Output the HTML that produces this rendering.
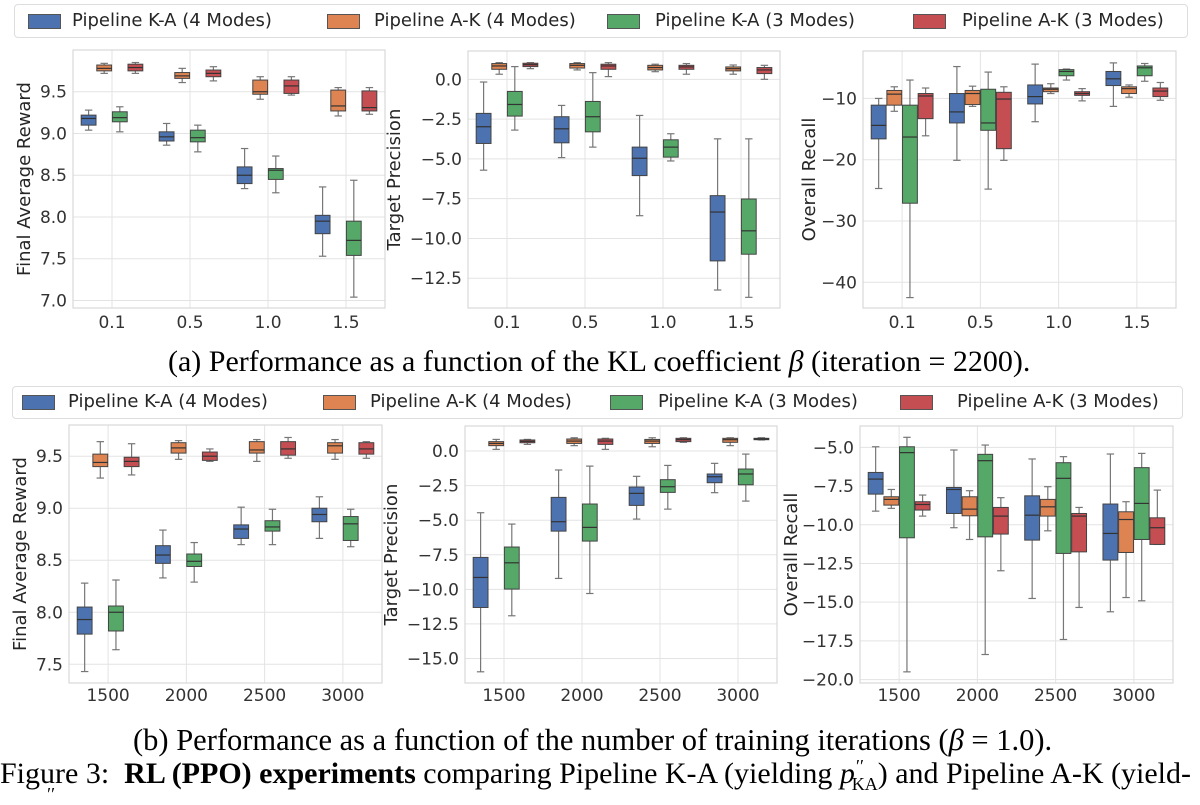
<!DOCTYPE html>
<html><head><meta charset="utf-8">
<style>
body{margin:0;background:#fff;width:1200px;height:798px;overflow:hidden;position:relative;font-family:"DejaVu Sans","Liberation Sans",sans-serif}
.legend{position:absolute;border:1px solid #ddd;border-radius:4px;background:#fff;box-sizing:border-box}
.sw{position:absolute;width:33px;height:15px;border:1px solid #555;box-sizing:border-box}
.lt{position:absolute;font-size:18px;color:#262626;white-space:nowrap;line-height:22px}
.cap{position:absolute;font-family:"Liberation Serif",serif;color:#000;white-space:nowrap}
</style></head><body>
<div class="legend" style="left:14px;top:4px;width:1174px;height:34px"></div>
<div><span class="sw" style="left:28px;top:14px;background:#4c72b0"></span><span class="lt" style="left:72px;top:10px">Pipeline K-A (4 Modes)</span></div>
<div><span class="sw" style="left:327px;top:14px;background:#dd8452"></span><span class="lt" style="left:374px;top:10px">Pipeline A-K (4 Modes)</span></div>
<div><span class="sw" style="left:607px;top:14px;background:#55a868"></span><span class="lt" style="left:655px;top:10px">Pipeline K-A (3 Modes)</span></div>
<div><span class="sw" style="left:913px;top:14px;background:#c44e52"></span><span class="lt" style="left:962px;top:10px">Pipeline A-K (3 Modes)</span></div>

<div class="legend" style="left:12px;top:386px;width:1171px;height:33px"></div>
<div><span class="sw" style="left:22px;top:395px;background:#4c72b0"></span><span class="lt" style="left:68px;top:391px">Pipeline K-A (4 Modes)</span></div>
<div><span class="sw" style="left:323px;top:395px;background:#dd8452"></span><span class="lt" style="left:370px;top:391px">Pipeline A-K (4 Modes)</span></div>
<div><span class="sw" style="left:610px;top:395px;background:#55a868"></span><span class="lt" style="left:658px;top:391px">Pipeline K-A (3 Modes)</span></div>
<div><span class="sw" style="left:900px;top:395px;background:#c44e52"></span><span class="lt" style="left:957px;top:391px">Pipeline A-K (3 Modes)</span></div>

<div class="cap" style="left:168px;top:344px;font-size:30px;line-height:36px">(a) Performance as a function of the KL coefficient <i>β</i> (iteration = 2200).</div>
<div class="cap" style="left:133px;top:722px;font-size:30.5px;line-height:36px">(b) Performance as a function of the number of training iterations (<i>β</i> = 1.0).</div>
<div class="cap" style="left:0px;top:756px;font-size:30px;line-height:36px">Figure 3:&nbsp; <b>RL (PPO) experiments</b> comparing Pipeline K-A (yielding <i>p</i><span style="position:relative;top:-11px;font-size:18px"><i>′′</i></span><span style="font-size:18px;position:relative;top:7px;margin-left:-11px">KA</span>) and Pipeline A-K (yield-</div>
<div class="cap" style="left:46px;top:784px;font-size:18px"><i>′′</i></div>
<svg id="chart" width="1200" height="798" style="position:absolute;left:0;top:0"></svg>
<script>
// categories
const catsBeta = ["0.1","0.5","1.0","1.5"];
const catsIter = ["1500","2000","2500","3000"];
// each entry: [whiskerLow, q1, median, q3, whiskerHigh]
// (a) Final Average Reward
const aRewKA4 = [[9.04,9.10,9.18,9.22,9.28],[8.86,8.91,8.96,9.02,9.12],[8.34,8.40,8.50,8.60,8.82],[7.53,7.80,7.95,8.02,8.36]];
const aRewAK4 = [[9.72,9.75,9.78,9.82,9.84],[9.61,9.66,9.69,9.73,9.78],[9.41,9.47,9.50,9.64,9.68],[9.21,9.27,9.33,9.52,9.55]];
const aRewKA3 = [[9.02,9.14,9.19,9.26,9.32],[8.78,8.90,8.95,9.04,9.10],[8.29,8.45,8.56,8.58,8.73],[7.04,7.54,7.72,7.95,8.44]];
const aRewAK3 = [[9.72,9.75,9.79,9.83,9.85],[9.63,9.68,9.72,9.76,9.80],[9.46,9.48,9.57,9.64,9.68],[9.23,9.27,9.31,9.51,9.55]];
// (a) Target Precision
const aPreKA4 = [[-5.71,-4.03,-2.98,-2.14,-0.17],[-4.92,-3.99,-3.11,-2.35,-1.64],[-8.57,-6.05,-4.96,-4.26,-2.27],[-13.24,-11.41,-8.34,-7.31,-3.74]];
const aPreAK4 = [[0.32,0.63,0.84,0.99,1.05],[0.59,0.71,0.88,0.99,1.05],[0.48,0.59,0.74,0.88,0.95],[0.32,0.53,0.67,0.78,0.90]];
const aPreKA3 = [[-3.19,-2.31,-1.58,-0.76,0.80],[-4.26,-3.30,-2.35,-1.39,0.42],[-5.13,-4.89,-4.26,-3.80,-3.42],[-13.70,-10.99,-9.52,-7.52,-3.74]];
const aPreAK3 = [[0.67,0.80,0.92,1.01,1.05],[0.17,0.63,0.84,0.95,1.05],[0.32,0.63,0.78,0.88,0.99],[0.00,0.36,0.59,0.74,0.88]];
// (a) Overall Recall
const aRecKA4 = [[-24.7,-16.6,-14.4,-11.1,-10.0],[-20.1,-14.0,-12.2,-9.2,-4.8],[-13.8,-10.9,-9.7,-7.8,-4.4],[-11.3,-7.9,-6.8,-5.6,-4.2]];
const aRecAK4 = [[-12.1,-11.1,-9.3,-8.7,-8.1],[-11.3,-11.0,-9.2,-8.7,-8.0],[-9.2,-8.9,-8.5,-8.3,-7.6],[-9.8,-9.2,-8.4,-8.1,-7.8]];
const aRecKA3 = [[-42.5,-27.1,-16.3,-11.1,-7.0],[-24.8,-15.2,-14.0,-8.5,-5.7],[-7.0,-6.3,-5.6,-5.3,-5.2],[-7.2,-6.3,-5.0,-4.7,-4.3]];
const aRecAK3 = [[-16.1,-13.3,-9.6,-9.2,-8.3],[-20.1,-18.2,-10.1,-9.0,-8.1],[-10.4,-9.5,-9.2,-8.9,-8.4],[-10.3,-9.7,-8.8,-8.3,-7.4]];
// (b) Final Average Reward
const bRewKA4 = [[7.43,7.79,7.93,8.05,8.28],[8.33,8.47,8.55,8.64,8.79],[8.65,8.71,8.80,8.84,9.01],[8.71,8.87,8.94,9.00,9.11]];
const bRewAK4 = [[9.29,9.40,9.44,9.52,9.64],[9.47,9.53,9.58,9.63,9.65],[9.45,9.53,9.56,9.64,9.66],[9.47,9.53,9.60,9.63,9.66]];
const bRewKA3 = [[7.64,7.82,8.00,8.06,8.31],[8.29,8.44,8.49,8.56,8.67],[8.65,8.78,8.82,8.88,8.99],[8.63,8.69,8.85,8.92,8.99]];
const bRewAK3 = [[9.32,9.40,9.45,9.49,9.62],[9.45,9.46,9.50,9.54,9.57],[9.48,9.51,9.57,9.64,9.68],[9.48,9.52,9.57,9.63,9.64]];
// (b) Target Precision
const bPreKA4 = [[-15.96,-11.31,-9.14,-7.69,-4.46],[-9.21,-5.79,-5.11,-3.35,-1.37],[-4.92,-3.93,-3.06,-2.60,-1.83],[-3.01,-2.29,-1.86,-1.66,-0.89]];
const bPreAK4 = [[0.12,0.39,0.55,0.68,0.84],[0.39,0.55,0.72,0.87,0.96],[0.31,0.55,0.72,0.84,0.96],[0.39,0.63,0.82,0.92,0.96]];
const bPreKA3 = [[-11.91,-9.98,-8.08,-6.94,-5.28],[-10.30,-6.51,-5.52,-3.83,-1.09],[-4.20,-2.99,-2.58,-2.07,-1.04],[-3.62,-2.44,-1.66,-1.30,-0.22]];
const bPreAK3 = [[0.48,0.60,0.70,0.80,0.84],[0.12,0.48,0.72,0.87,0.92],[0.63,0.68,0.82,0.92,0.96],[0.80,0.82,0.87,0.92,0.96]];
// (b) Overall Recall
const bRecKA4 = [[-9.12,-8.02,-7.05,-6.62,-4.96],[-10.19,-9.27,-7.72,-7.59,-5.17],[-14.76,-10.99,-9.38,-8.13,-5.75],[-15.62,-12.28,-10.56,-8.66,-5.43]];
const bRecAK4 = [[-8.94,-8.73,-8.36,-8.19,-7.72],[-10.95,-9.42,-8.99,-8.19,-7.80],[-10.39,-9.44,-8.84,-8.36,-7.54],[-14.70,-11.79,-9.66,-9.16,-8.51]];
const bRecKA3 = [[-19.5,-10.84,-5.34,-4.96,-4.35],[-18.38,-10.78,-5.86,-5.45,-4.85],[-17.41,-11.85,-7.00,-5.99,-5.60],[-14.91,-10.95,-8.62,-6.31,-5.39]];
const bRecAK3 = [[-9.44,-9.05,-8.69,-8.51,-8.08],[-12.97,-10.60,-9.44,-8.88,-8.25],[-15.34,-11.75,-9.44,-9.27,-8.88],[-11.27,-11.27,-10.19,-9.55,-7.76]];
// tick labels
const ticksARew = [7.0,7.5,8.0,8.5,9.0,9.5];
const ticksAPre = [0.0,-2.5,-5.0,-7.5,-10.0,-12.5];
const ticksARec = [-10,-20,-30,-40];
const ticksBRew = [7.5,8.0,8.5,9.0,9.5];
const ticksBPre = [0.0,-2.5,-5.0,-7.5,-10.0,-12.5,-15.0];
const ticksBRec = [-5.0,-7.5,-10.0,-12.5,-15.0,-17.5,-20.0];

const colors = ["#4c72b0","#dd8452","#55a868","#c44e52"];
const svg = document.getElementById('chart');
const NS = "http://www.w3.org/2000/svg";
function mk(tag, attrs, parent){const e=document.createElementNS(NS,tag);for(const k in attrs)e.setAttribute(k,attrs[k]);parent.appendChild(e);return e;}

const panels = [
 {name:"a-reward",x0:73,x1:385,y0:50,y1:308,dom:[6.91,10.0],cats:catsBeta,series:[aRewKA4,aRewAK4,aRewKA3,aRewAK3],ticks:ticksARew,dec:1,label:"Final Average Reward",lx:30,ty:328},
 {name:"a-precision",x0:468,x1:780,y0:51,y1:308,dom:[-14.37,1.78],cats:catsBeta,series:[aPreKA4,aPreAK4,aPreKA3,aPreAK3],ticks:ticksAPre,dec:1,label:"Target Precision",lx:400,ty:328},
 {name:"a-recall",x0:863,x1:1176,y0:51,y1:308,dom:[-44.2,-2.26],cats:catsBeta,series:[aRecKA4,aRecAK4,aRecKA3,aRecAK3],ticks:ticksARec,dec:0,label:"Overall Recall",lx:815,ty:328},
 {name:"b-reward",x0:69,x1:382,y0:425,y1:683,dom:[7.32,9.80],cats:catsIter,series:[bRewKA4,bRewAK4,bRewKA3,bRewAK3],ticks:ticksBRew,dec:1,label:"Final Average Reward",lx:26,ty:701},
 {name:"b-precision",x0:465,x1:777,y0:426,y1:683,dom:[-16.77,1.81],cats:catsIter,series:[bPreKA4,bPreAK4,bPreKA3,bPreAK3],ticks:ticksBPre,dec:1,label:"Target Precision",lx:397,ty:701},
 {name:"b-recall",x0:860,x1:1173,y0:426,y1:683,dom:[-20.22,-3.62],cats:catsIter,series:[bRecKA4,bRecAK4,bRecKA3,bRecAK3],ticks:ticksBRec,dec:1,label:"Overall Recall",lx:797,ty:701}
];
const seriesNames=["ka-4-modes","ak-4-modes","ka-3-modes","ak-3-modes"];

panels.forEach(p=>{
 const g=mk('g',{},svg);
 
 
 const n=p.cats.length, band=(p.x1-p.x0)/n;
 const xc=i=>p.x0+band*(i+0.5);
 const yv=v=>p.y1-(v-p.dom[0])/(p.dom[1]-p.dom[0])*(p.y1-p.y0);
 p.cats.forEach((c,i)=>{mk('line',{x1:xc(i),x2:xc(i),y1:p.y0,y2:p.y1,stroke:"#e3e3e3","stroke-width":1},g);
  const t=mk('text',{x:xc(i),y:p.ty,"text-anchor":"middle","font-size":"17","fill":"#333","font-family":"DejaVu Sans, Liberation Sans, sans-serif"},g);
  t.textContent=c;
  
  
 });
 p.ticks.forEach(v=>{const y=yv(v);mk('line',{x1:p.x0,x2:p.x1,y1:y,y2:y,stroke:"#e3e3e3","stroke-width":1},g);
  const t=mk('text',{x:p.x0-6,y:y+6,"text-anchor":"end","font-size":"17","fill":"#333","font-family":"DejaVu Sans, Liberation Sans, sans-serif"},g);
  t.textContent=(v<0?"\u2212":"")+Math.abs(v).toFixed(p.dec);
  
  
 });
 mk('rect',{x:p.x0,y:p.y0,width:p.x1-p.x0,height:p.y1-p.y0,fill:"none",stroke:"#d8d8d8","stroke-width":1.2},g);
 const yl=mk('text',{x:p.lx,y:(p.y0+p.y1)/2,"text-anchor":"middle","font-size":"18","fill":"#262626",transform:`rotate(-90 ${p.lx} ${(p.y0+p.y1)/2})`,"font-family":"DejaVu Sans, Liberation Sans, sans-serif"},g);
 yl.textContent=p.label;
 
 
 const hw=band*0.2, bw=hw*0.95;
 p.series.forEach((ser,s)=>{
  ser.forEach((d,i)=>{
   const cx=xc(i)+(s-1.5)*hw;
   const bg=mk('g',{},g);
   
   
   const cap=bw*0.25;
   mk('line',{x1:cx,x2:cx,y1:yv(d[0]),y2:yv(d[1]),stroke:"#777","stroke-width":1.2},bg);
   mk('line',{x1:cx,x2:cx,y1:yv(d[3]),y2:yv(d[4]),stroke:"#777","stroke-width":1.2},bg);
   mk('line',{x1:cx-cap,x2:cx+cap,y1:yv(d[0]),y2:yv(d[0]),stroke:"#777","stroke-width":1.2},bg);
   mk('line',{x1:cx-cap,x2:cx+cap,y1:yv(d[4]),y2:yv(d[4]),stroke:"#777","stroke-width":1.2},bg);
   mk('rect',{x:cx-bw/2,y:yv(d[3]),width:bw,height:Math.max(1,yv(d[1])-yv(d[3])),fill:colors[s],stroke:"#444","stroke-width":1},bg);
   mk('line',{x1:cx-bw/2,x2:cx+bw/2,y1:yv(d[2]),y2:yv(d[2]),stroke:"#333","stroke-width":1.2},bg);
  });
 });
});
</script>
</body></html>
